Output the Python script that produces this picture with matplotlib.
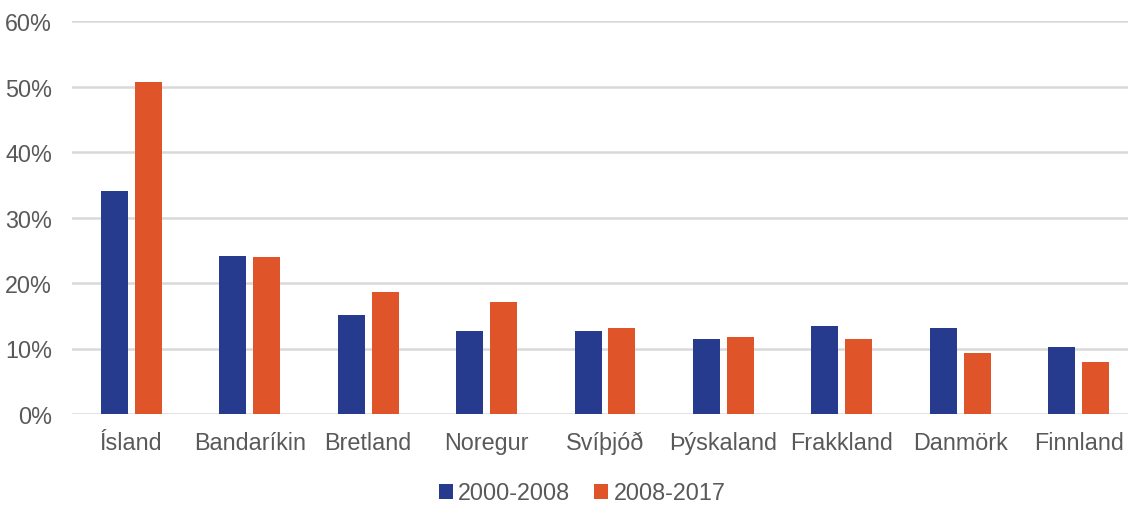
import numpy as np
import matplotlib.pyplot as plt
from matplotlib.ticker import PercentFormatter

# Data
countries = ['Ísland', 'Bandaríkin', 'Bretland', 'Noregur', 'Svíþjóð',
             'Þýskaland', 'Frakkland', 'Danmörk', 'Finnland']
p2000_2008 = [34.1, 24.1, 15.1, 12.6, 12.7, 11.5, 13.5, 13.1, 10.2]
p2008_2017 = [50.7, 24.0, 18.7, 17.1, 13.2, 11.8, 11.5, 9.3, 8.0]
series_names = ['2000-2008', '2008-2017']

blue = '#263a8e'
orange = '#e0542a'
grey = '#595959'
fs = 16.8

plt.rcParams['font.family'] = ['Liberation Sans', 'DejaVu Sans']

fig = plt.figure(figsize=(11.28, 5.06), dpi=100)
ax = fig.add_axes([72/1128, 91/506, 1066/1128, 393/506])

x = np.arange(len(countries))
w = 0.228
off = 0.143
ax.bar(x - off, p2000_2008, w, color=blue, label=series_names[0], zorder=3)
ax.bar(x + off, p2008_2017, w, color=orange, label=series_names[1], zorder=3)

ax.set_xlim(-0.5, len(countries) - 0.5)
ax.set_ylim(0, 60)
ax.set_yticks(np.arange(0, 61, 10))
ax.yaxis.set_major_formatter(PercentFormatter(decimals=0))
ax.grid(axis='y', color='#d9d9d9', linewidth=1.8, zorder=0)

ax.set_xticks(x)
ax.set_xticklabels(countries)
ax.tick_params(axis='both', length=0, labelsize=fs, labelcolor=grey)
ax.tick_params(axis='x', pad=12)
ax.tick_params(axis='y', pad=14.4)
for s in ax.spines.values():
    s.set_visible(False)

fig.legend(loc='center', bbox_to_anchor=(582/1128, 1 - 494/506), ncol=2,
           frameon=False, fontsize=fs, labelcolor=grey,
           handlelength=0.6, handleheight=0.6, handletextpad=0.25,
           columnspacing=1.0)

plt.savefig('out.png', dpi=100)
